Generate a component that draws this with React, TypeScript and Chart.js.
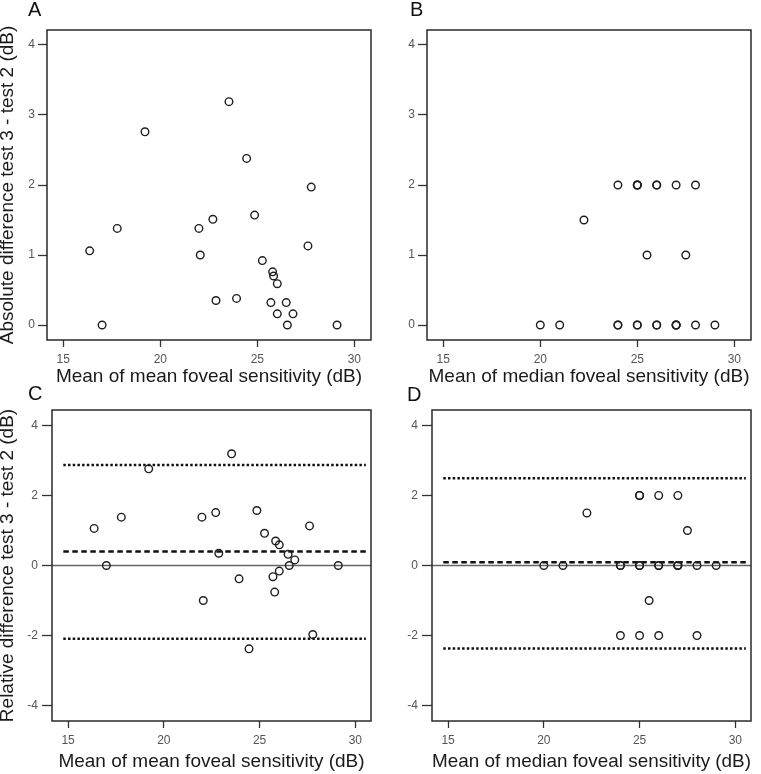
import React, { useEffect, useRef } from 'react';
import { Chart, registerables } from 'chart.js';

Chart.register(...registerables);

const FONT = '"Liberation Sans", Arial, Helvetica, sans-serif';

// Tick labels
const xTickValues = [15, 20, 25, 30];
const absTickValues = [0, 1, 2, 3, 4];
const relTickValues = [-4, -2, 0, 2, 4];

// Panels A & C: mean foveal sensitivity
const meanSensitivity = [16.36, 17.0, 17.78, 19.21, 21.99, 22.06, 22.71, 22.87, 23.54, 23.93, 24.45, 24.86, 25.26, 25.79, 25.84, 26.03, 25.7, 26.03, 26.49, 26.84, 26.55, 27.61, 27.78, 29.11];
const absDiffMean = [1.06, 0, 1.38, 2.76, 1.38, 1.0, 1.51, 0.35, 3.19, 0.38, 2.38, 1.57, 0.92, 0.76, 0.7, 0.59, 0.32, 0.16, 0.32, 0.16, 0, 1.13, 1.97, 0];
const relDiffMean = [1.06, 0, 1.38, 2.76, 1.38, -1.0, 1.51, 0.35, 3.19, -0.38, -2.38, 1.57, 0.92, -0.76, 0.7, 0.59, -0.32, -0.16, 0.32, 0.16, 0, 1.13, -1.97, 0];

// Panels B & D: median foveal sensitivity
const medianSensitivity = [20, 21, 22.25, 24, 24, 24, 25, 25, 25, 25, 25, 25.5, 26, 26, 26, 26, 27, 27, 27, 27, 27.5, 28, 28, 29];
const absDiffMedian = [0, 0, 1.5, 0, 0, 2, 2, 2, 0, 0, 2, 1, 2, 0, 0, 2, 2, 0, 0, 0, 1, 0, 2, 0];
const relDiffMedian = [0, 0, 1.5, 0, 0, -2, 2, 2, 0, 0, -2, -1, 2, 0, 0, -2, 2, 0, 0, 0, 1, 0, -2, 0];

// Limits of agreement: upper, mean difference, lower
const limitsMean = [2.87, 0.4, -2.09];
const limitsMedian = [2.49, 0.09, -2.37];
const limitLineX = [14.75, 30.55];

const xTitleMean = 'Mean of mean foveal sensitivity (dB)';
const xTitleMedian = 'Mean of median foveal sensitivity (dB)';
const yTitleAbs = 'Absolute difference test 3 - test 2 (dB)';
const yTitleRel = 'Relative difference test 3 - test 2 (dB)';

type PanelCfg = {
  letter: string;
  letterX: number;
  letterY: number;
  left: number;
  top: number;
  w: number;
  h: number;
  padRight: number;
  yAxisW: number;
  xAxisH: number;
  xMin: number;
  xMax: number;
  yMin: number;
  yMax: number;
  yTicks: number[];
  yTickLen: number;
  yTickPad: number;
  xTitlePad: number;
  xs: number[];
  ys: number[];
  xTitle: string;
  yTitle: string;
  limits: number[] | null;
};

const panels: PanelCfg[] = [
  { letter: 'A', letterX: 28, letterY: 15.5, left: 0, top: 0, w: 380, h: 390, padRight: 9, yAxisW: 47, xAxisH: 50,
    xMin: 14.16, xMax: 30.86, yMin: -0.214, yMax: 4.214, yTicks: absTickValues, yTickLen: 9, yTickPad: 3, xTitlePad: 6,
    xs: meanSensitivity, ys: absDiffMean, xTitle: xTitleMean, yTitle: yTitleAbs, limits: null },
  { letter: 'B', letterX: 30, letterY: 15.5, left: 380, top: 0, w: 381, h: 390, padRight: 10, yAxisW: 47, xAxisH: 50,
    xMin: 14.16, xMax: 30.86, yMin: -0.214, yMax: 4.214, yTicks: absTickValues, yTickLen: 9, yTickPad: 3, xTitlePad: 6,
    xs: medianSensitivity, ys: absDiffMedian, xTitle: xTitleMedian, yTitle: '', limits: null },
  { letter: 'C', letterX: 28, letterY: 20, left: 0, top: 380, w: 380, h: 394, padRight: 9, yAxisW: 52, xAxisH: 53,
    xMin: 14.16, xMax: 30.82, yMin: -4.44, yMax: 4.44, yTicks: relTickValues, yTickLen: 10, yTickPad: 4, xTitlePad: 5,
    xs: meanSensitivity, ys: relDiffMean, xTitle: xTitleMean, yTitle: yTitleRel, limits: limitsMean },
  { letter: 'D', letterX: 27, letterY: 20.5, left: 380, top: 380, w: 381, h: 394, padRight: 10, yAxisW: 52, xAxisH: 53,
    xMin: 14.16, xMax: 30.82, yMin: -4.44, yMax: 4.44, yTicks: relTickValues, yTickLen: 10, yTickPad: 4, xTitlePad: 5,
    xs: medianSensitivity, ys: relDiffMedian, xTitle: xTitleMedian, yTitle: '', limits: limitsMedian },
];

const framePlugin = {
  id: 'panelFrame',
  afterDraw(chart: any, _args: any, opts: any) {
    const { ctx, chartArea } = chart;
    ctx.save();
    ctx.strokeStyle = '#2a2a2a';
    ctx.lineWidth = 1.5;
    ctx.strokeRect(chartArea.left, chartArea.top, chartArea.right - chartArea.left, chartArea.bottom - chartArea.top);
    ctx.fillStyle = '#111';
    ctx.font = '20px ' + FONT;
    ctx.textAlign = 'left';
    ctx.textBaseline = 'alphabetic';
    ctx.fillText(opts.letter, opts.x, opts.y);
    ctx.restore();
  },
};

function Panel({ cfg }: { cfg: PanelCfg }) {
  const ref = useRef<HTMLCanvasElement | null>(null);
  useEffect(() => {
    if (!ref.current) return;
    const points = cfg.xs.map((x, i) => ({ x, y: cfg.ys[i] }));
    const datasets: any[] = [
      {
        label: 'points',
        data: points,
        pointRadius: 3.8,
        pointBorderWidth: 1.4,
        pointBorderColor: '#1e1e1e',
        pointBackgroundColor: 'rgba(255,255,255,0)',
        showLine: false,
      },
    ];
    if (cfg.limits) {
      const [upper, mean, lower] = cfg.limits;
      const mk = (y: number, dash: number[]) => ({
        data: [{ x: limitLineX[0], y }, { x: limitLineX[1], y }],
        showLine: true,
        borderColor: '#111',
        borderWidth: 2.5,
        borderDash: dash,
        pointRadius: 0,
      });
      datasets.push(mk(upper, [2.5, 2.2]));
      datasets.push(mk(mean, [5.5, 3.5]));
      datasets.push(mk(lower, [2.5, 2.2]));
      datasets.push({
        data: [{ x: cfg.xMin, y: 0 }, { x: cfg.xMax, y: 0 }],
        showLine: true,
        borderColor: '#666',
        borderWidth: 1.5,
        pointRadius: 0,
      });
    }
    const chart = new Chart(ref.current, {
      type: 'scatter',
      data: { datasets },
      plugins: [framePlugin as any],
      options: {
        responsive: false,
        animation: false,
        layout: { padding: { top: 30, right: cfg.padRight, left: 0, bottom: 0 } },
        plugins: {
          legend: { display: false },
          tooltip: { enabled: false },
          panelFrame: { letter: cfg.letter, x: cfg.letterX, y: cfg.letterY },
        } as any,
        scales: {
          x: {
            type: 'linear',
            min: cfg.xMin,
            max: cfg.xMax,
            afterFit: (s: any) => { s.height = cfg.xAxisH; },
            afterBuildTicks: (s: any) => { s.ticks = xTickValues.map((v) => ({ value: v })); },
            grid: { display: true, drawOnChartArea: false, drawTicks: true, tickLength: 7, tickColor: '#333', tickWidth: 1.3 },
            border: { display: false },
            ticks: { color: '#555', font: { family: FONT, size: 12 }, padding: 5, autoSkip: false, maxRotation: 0 },
            title: {
              display: true,
              text: cfg.xTitle,
              color: '#1a1a1a',
              font: { family: FONT, size: 19, lineHeight: 0.8 },
              padding: { top: 0, bottom: cfg.xTitlePad },
            },
          },
          y: {
            type: 'linear',
            min: cfg.yMin,
            max: cfg.yMax,
            afterFit: (s: any) => { s.width = cfg.yAxisW; },
            afterBuildTicks: (s: any) => { s.ticks = cfg.yTicks.map((v) => ({ value: v })); },
            grid: { display: true, drawOnChartArea: false, drawTicks: true, tickLength: cfg.yTickLen, tickColor: '#333', tickWidth: 1.3 },
            border: { display: false },
            ticks: { color: '#555', font: { family: FONT, size: 12 }, padding: cfg.yTickPad, autoSkip: false },
            title: {
              display: cfg.yTitle !== '',
              text: cfg.yTitle,
              color: '#1a1a1a',
              font: { family: FONT, size: 19, lineHeight: 0.8 },
              padding: { top: 0, bottom: 0 },
            },
          },
        },
      } as any,
    });
    return () => chart.destroy();
  }, [cfg]);
  return (
    <canvas
      ref={ref}
      width={cfg.w}
      height={cfg.h}
      style={{ position: 'absolute', left: cfg.left, top: cfg.top, width: cfg.w, height: cfg.h }}
    />
  );
}

export default function App() {
  return (
    <div style={{ position: 'absolute', left: 0, top: 0, width: 761, height: 774, background: '#fff', overflow: 'hidden' }}>
      {panels.map((p) => (
        <Panel key={p.letter} cfg={p} />
      ))}
    </div>
  );
}
